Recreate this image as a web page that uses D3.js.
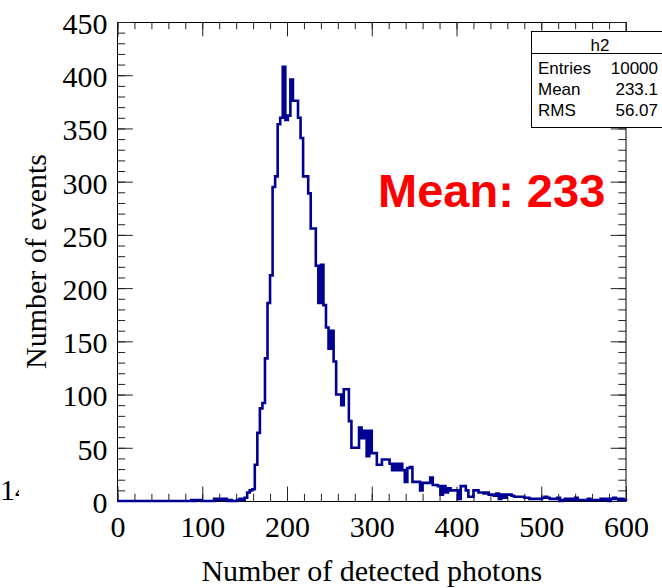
<!DOCTYPE html>
<html><head><meta charset="utf-8">
<script src="https://cdn.jsdelivr.net/npm/d3@7"></script>
<style>html,body{margin:0;padding:0;background:#fff;} svg{display:block;}</style>
</head><body><svg id="c" width="662" height="588"></svg>
<script>
// ---- data ----
const histName = "h2";
const binWidth = 3;           // units per bin, histogram range 0..600
const counts = [
  0,0,0,0,0,0,0,0,0,0, 0,0,0,0,0,0,0,0,0,0, 0,0,0,0,0,0,0,0,0,
  1,0,1,1,
  0,0,0,0,0,
  2,1,2,1,2,
  0,1,0,0,
  1,2,1,3,
  8,10,11,
  34,64,87,92,134,186,212,
  295,305,354,360,408,358,362,396,376,376,360,341,305,305,289,
  256,256,221,186,222,184,163,143,160,131,100,100,90,105,105,
  75,50,50,50,69,59,66,42,66,
  45,45,34,34,39,39,39,35,29,35, 29,35,29,18,31,32,18,18,18,10,
  17,17,17,22,15,15,14,6,14,8, 12,10,10,10,2,14,14,10,4,4, 10,10,
  8,8,7,8, 6,6,5, 7,2,6,3, 6,6,5, 4,4,4,4, 3,3,2, 2,2,2,2, 3,4,3, 2,2,2, 3,0,
  1,2,1,2,1, 3, 1,1,1, 1,2, 1,1,1, 1,2,1,2, 0, 2,3,2, 1,2,1
];
const xTickValues = [0,100,200,300,400,500,600];
const yTickValues = [0,50,100,150,200,250,300,350,400,450];
const xTitle = "Number of detected photons";
const yTitle = "Number of events";
const statsLabels = ["Entries","Mean","RMS"];
const statsValues = ["10000","233.1","56.07"];
const annotation = "Mean: 233";
const strayText = "14";

// ---- layout ----
const svg = d3.select("#c");
const L = 117.5, R = 626, T = 22, B = 501;
const x = d3.scaleLinear().domain([0, 600]).range([L, R]);
const y = d3.scaleLinear().domain([0, 450]).range([B, T]);
const serif = "'Liberation Serif','Times New Roman',serif";
const sans = "'Liberation Sans',Arial,sans-serif";
const tickLenX = 14.4, tickLenY = 15.3;

// frame
svg.append("rect").attr("x", L).attr("y", T + 0.5).attr("width", R - L).attr("height", B - T)
  .attr("fill", "none").attr("stroke", "#000").attr("stroke-width", 1);

function styleAxis(g, labels) {
  g.select(".domain").remove();
  g.selectAll(".tick line").attr("stroke", "#222").attr("stroke-width", 1);
  if (labels) g.selectAll(".tick text").attr("font-family", serif).attr("font-size", 30).attr("fill", "#000");
  else g.selectAll(".tick text").remove();
}
const minorX = d3.range(0, 601, 20), minorY = d3.range(0, 451, 10);

// bottom
svg.append("g").attr("transform", `translate(0,${B})`)
  .call(d3.axisBottom(x).tickValues(minorX).tickSize(-tickLenX / 2).tickFormat("")).call(g => styleAxis(g, false));
svg.append("g").attr("transform", `translate(0,${B})`)
  .call(d3.axisBottom(x).tickValues(xTickValues).tickSize(-tickLenX).tickPadding(15).tickFormat(d3.format("d")))
  .call(g => styleAxis(g, true));
// top
svg.append("g").attr("transform", `translate(0,${T})`)
  .call(d3.axisTop(x).tickValues(minorX).tickSize(-tickLenX / 2).tickFormat("")).call(g => styleAxis(g, false));
svg.append("g").attr("transform", `translate(0,${T})`)
  .call(d3.axisTop(x).tickValues(xTickValues).tickSize(-tickLenX).tickFormat("")).call(g => styleAxis(g, false));
// left
svg.append("g").attr("transform", `translate(${L},0)`)
  .call(d3.axisLeft(y).tickValues(minorY).tickSize(-tickLenY / 2).tickFormat("")).call(g => styleAxis(g, false));
svg.append("g").attr("transform", `translate(${L},0)`)
  .call(d3.axisLeft(y).tickValues(yTickValues).tickSize(-tickLenY).tickPadding(10).tickFormat(d3.format("d")))
  .call(g => { styleAxis(g, true); g.selectAll(".tick text").attr("dy", "0.38em"); });
// right
svg.append("g").attr("transform", `translate(${R},0)`)
  .call(d3.axisRight(y).tickValues(minorY).tickSize(-tickLenY / 2).tickFormat("")).call(g => styleAxis(g, false));
svg.append("g").attr("transform", `translate(${R},0)`)
  .call(d3.axisRight(y).tickValues(yTickValues).tickSize(-tickLenY).tickFormat("")).call(g => styleAxis(g, false));

// histogram step line
const pts = [[0, 0]];
counts.forEach((c, i) => { pts.push([i * binWidth, c]); pts.push([(i + 1) * binWidth, c]); });
pts.push([600, 0]);
svg.append("path").datum(pts)
  .attr("d", d3.line().x(d => x(d[0])).y(d => y(d[1])))
  .attr("fill", "none").attr("stroke", "#000092").attr("stroke-width", 2.6).attr("stroke-linejoin", "miter");

// titles
svg.append("text").attr("x", (L + R) / 2 + 0).attr("y", 581).attr("text-anchor", "middle")
  .attr("font-family", serif).attr("font-size", 30).text(xTitle);
svg.append("text").attr("transform", `translate(46,${(T + B) / 2 + 0}) rotate(-90)`).attr("text-anchor", "middle")
  .attr("font-family", serif).attr("font-size", 30).text(yTitle);

// stats box
const bx = 531.5, by = 31.5, bw = 140, bh = 96;
svg.append("rect").attr("x", bx).attr("y", by).attr("width", bw).attr("height", bh)
  .attr("fill", "#fff").attr("stroke", "#000").attr("stroke-width", 1);
svg.append("line").attr("x1", bx).attr("x2", bx + bw).attr("y1", 53.5).attr("y2", 53.5).attr("stroke", "#000");
svg.append("text").attr("x", 600).attr("y", 50.5).attr("text-anchor", "middle")
  .attr("font-family", sans).attr("font-size", 17).text(histName);
const rowY = [74, 95, 115.5];
statsLabels.forEach((lab, i) => {
  svg.append("text").attr("x", 538).attr("y", rowY[i]).attr("font-family", sans).attr("font-size", 17).text(lab);
  svg.append("text").attr("x", 658).attr("y", rowY[i]).attr("text-anchor", "end").attr("font-family", sans).attr("font-size", 17).text(statsValues[i]);
});

// annotation
svg.append("text").attr("x", 378).attr("y", 207).attr("font-family", sans).attr("font-weight", "bold")
  .attr("font-size", 47).attr("fill", "#ff0000").text(annotation);

// stray partially clipped text at left
svg.append("clipPath").attr("id", "strayClip").append("rect").attr("x", 0).attr("y", 470).attr("width", 19).attr("height", 40);
svg.append("text").attr("x", 0).attr("y", 500).attr("clip-path", "url(#strayClip)")
  .attr("font-family", serif).attr("font-size", 30).text(strayText);
</script></body></html>
